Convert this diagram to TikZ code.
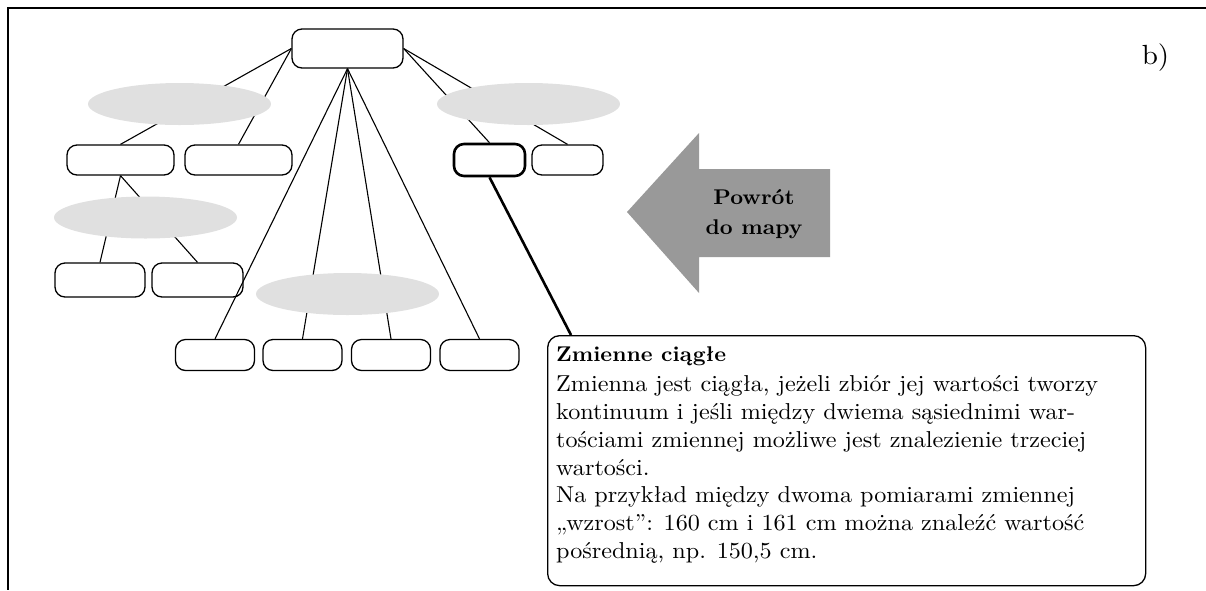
\documentclass[tikz,border=0pt]{standalone}
\usepackage{fontspec}
\setmainfont{lmroman10-regular.otf}[BoldFont=lmroman10-bold.otf, FakeStretch=1.05]
\usepackage{tikz}
\usetikzlibrary{shapes,calc,positioning,arrows.meta,shapes.geometric}
\definecolor{linkgray}{RGB}{224,224,224}
\definecolor{backgray}{RGB}{153,153,153}

\begin{document}
\begin{tikzpicture}[x=1pt, y=-1pt,
                concept/.style={rectangle, draw, line width=1.3pt, rounded corners=10pt, inner sep=0pt, minimum width=107pt, minimum height=30pt},
                small_concept/.style={concept, minimum width=79pt, minimum height=31pt},
                link/.style={ellipse, fill=linkgray, inner sep=0pt, minimum width=183pt, minimum height=42pt},
                edge/.style={line width=1.1pt},
                info_box/.style={rectangle, draw, line width=1.3pt, rounded corners=12pt, inner sep=0pt, minimum width=598pt, minimum height=250pt},
                info_text/.style={align=left, inner sep=0pt, font=\fontsize{23}{27.8}\selectfont}
            ]
                \useasboundingbox (0,0) rectangle (1206,590);
                \draw[line width=1.3pt] (1206,8) -- (8,8) -- (8,590);

                \node[concept, minimum width=111pt, minimum height=39pt] (root) at (347.5,48.5) {};

                \node[concept] (a) at (120.5,160) {};
                \node[concept] (b) at (238.5,160) {};
                \node[concept, line width=2.6pt, minimum width=71pt, minimum height=32pt] (c) at (489.5,160) {};
                \node[concept, minimum width=71pt] (d) at (567.5,160) {};

                \node[concept, minimum width=90pt, minimum height=34pt] (e) at (100,280) {};
                \node[concept, minimum width=91pt, minimum height=34pt] (f) at (197.5,280) {};

                \node[small_concept] (g) at (215,355) {};
                \node[small_concept] (h) at (302.5,355) {};
                \node[small_concept] (i) at (391,355) {};
                \node[small_concept] (j) at (479.5,355) {};

                \draw[edge] (root.west) -- (a.north);
                \draw[edge] (root.west) -- (b.north);
                \draw[edge] (root.east) -- (c.north);
                \draw[edge] (root.east) -- (d.north);
                \foreach \leaf in {g,h,i,j}
                    \draw[edge] (root.south) -- (\leaf.north);
                \draw[edge] (a.south) -- (e.north);
                \draw[edge] (a.south) -- (f.north);

                \node[link] (l1) at (179.5,104) {};
                \node[link] (r1) at (528.5,104) {};
                \node[link] (l2) at (145.5,217.5) {};
                \node[link] (m) at (347.5,294) {};

                \node[info_box, anchor=north west] (info) at (547,335) {};
                \node[info_text, anchor=north west] (infotext) at ([shift={(9,12)}]info.north west) {%
                    {\fontsize{21.3}{27.8}\selectfont\bfseries Zmienne ciągłe}\\[2pt]
                    Zmienna jest ciągła, jeżeli zbiór jej wartości tworzy\\
                    kontinuum i jeśli między dwiema sąsiednimi war-\\
                    tościami zmiennej możliwe jest znalezienie trzeciej\\
                    wartości.\\
                    Na przykład między dwoma pomiarami zmiennej\\
                    „wzrost”: 160 cm i 161 cm można znaleźć wartość\\
                    pośrednią, np. 150,5 cm.};
                \coordinate (hook) at (571,335);
                \draw[line width=2.6pt] (c.south) -- (hook);

                \fill[backgray] (627,212) -- (699,133) -- (699,169) -- (830,169) -- (830,257) -- (699,257) -- (699,293) -- cycle;
                \node[align=center, font=\bfseries\fontsize{21.3}{30}\selectfont] (back) at (754,214) {Powrót\\do mapy};

                \node[font=\fontsize{27.7}{30}\selectfont] (tag) at (1155.5,57.5) {b)};
            \end{tikzpicture}
\end{document}
